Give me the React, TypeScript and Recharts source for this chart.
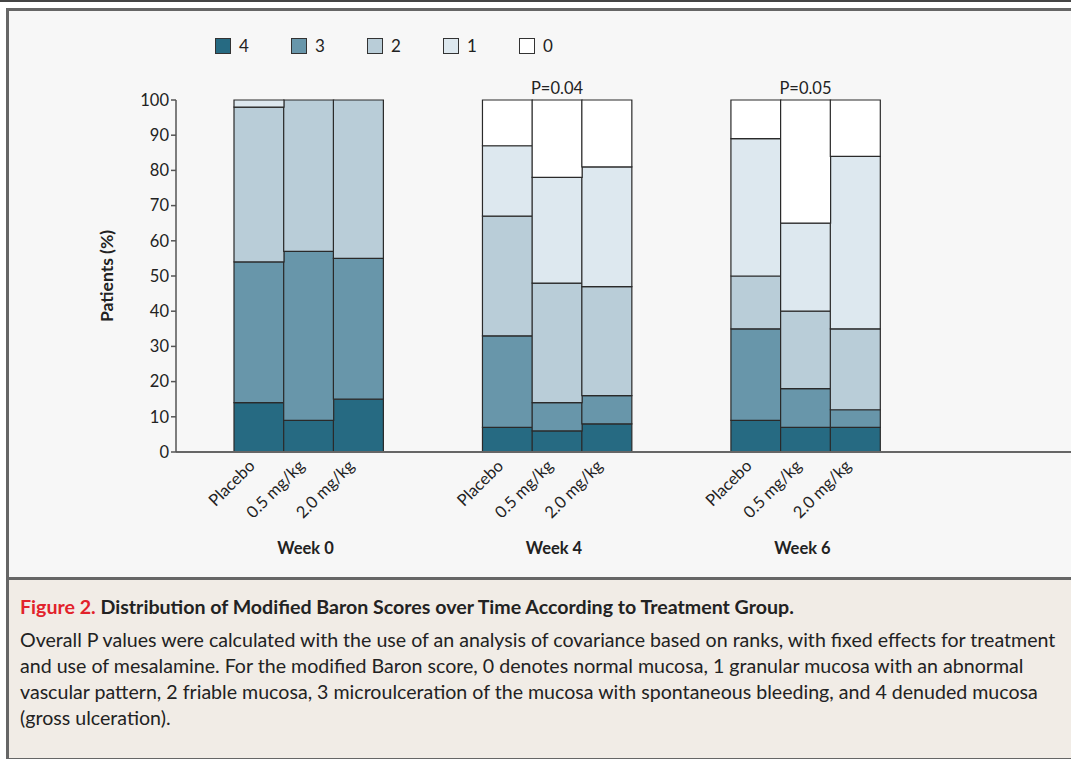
import { Bar, BarChart, XAxis, YAxis } from 'recharts'

const groups = ['Placebo', '0.5 mg/kg', '2.0 mg/kg']
const weeks = ['Week 0', 'Week 4', 'Week 6']
const pValues = ['', 'P=0.04', 'P=0.05']
const yTicks = [0, 10, 20, 30, 40, 50, 60, 70, 80, 90, 100]

// modified Baron score, % of patients, 3 groups per week
const score4 = [14, 9, 15, 7, 6, 8, 9, 7, 7]
const score3 = [40, 48, 40, 26, 8, 8, 26, 11, 5]
const score2 = [44, 43, 45, 34, 34, 31, 15, 22, 23]
const score1 = [2, 0, 0, 20, 30, 34, 39, 25, 49]
const score0 = [0, 0, 0, 13, 22, 19, 11, 35, 16]

const series = [
  { key: 's4', name: '4', values: score4, color: '#266a82' },
  { key: 's3', name: '3', values: score3, color: '#6896aa' },
  { key: 's2', name: '2', values: score2, color: '#b9cdd8' },
  { key: 's1', name: '1', values: score1, color: '#dde8ef' },
  { key: 's0', name: '0', values: score0, color: '#ffffff' },
]

// 3 bars per week, two empty slots between weeks
const data: Record<string, string | number | undefined>[] = []
weeks.forEach((week, w) => {
  groups.forEach((g, i) => {
    const idx = w * groups.length + i
    const row: Record<string, string | number | undefined> = {
      cat: g,
      week: i === 1 ? week : '',
      p: i === 1 ? pValues[w] : '',
    }
    series.forEach((s) => {
      row[s.key] = s.values[idx]
    })
    data.push(row)
  })
  if (w < weeks.length - 1) {
    data.push({ cat: '', week: '', p: '' })
    data.push({ cat: '', week: '', p: '' })
  }
})

const font = 'Lato, "Open Sans", sans-serif'
const pad = { left: 58, right: 191 }

const CatTick = ({ x, y, payload }: any) => {
  if (!payload.value) return null
  const ax = x - 3
  const ay = y + 7
  return (
    <text
      x={ax}
      y={ay}
      transform={`rotate(-45 ${ax} ${ay})`}
      textAnchor="end"
      fontSize={16.5}
      fill="#222"
      fontFamily={font}
    >
      {payload.value}
    </text>
  )
}

const WeekTick = ({ x, y, payload }: any) => {
  if (!payload.value) return null
  return (
    <text x={x - 3} y={y + 14} textAnchor="middle" fontSize={16.5} fontWeight={700} fill="#222" fontFamily={font}>
      {payload.value}
    </text>
  )
}

const PTick = ({ x, y, payload }: any) => {
  if (!payload.value) return null
  return (
    <text x={x} y={y + 2} textAnchor="middle" fontSize={16.5} fill="#222" fontFamily={font}>
      {payload.value}
    </text>
  )
}

const YLabel = (props: any) => {
  const vb = props.viewBox
  const cx = vb.x + 26
  const cy = vb.y + vb.height / 2
  return (
    <text
      x={cx}
      y={cy}
      transform={`rotate(-90 ${cx} ${cy})`}
      textAnchor="middle"
      dominantBaseline="central"
      fontSize={17.5}
      fontWeight={700}
      fill="#222"
      fontFamily={font}
    >
      Patients (%)
    </text>
  )
}

function Legend() {
  return (
    <div style={{ position: 'absolute', left: 215, top: 35, display: 'flex', fontFamily: font, fontSize: 17, color: '#222' }}>
      {series.map((s) => (
        <div key={s.key} style={{ display: 'flex', alignItems: 'center', width: 76 }}>
          <span
            style={{
              display: 'inline-block',
              width: 14,
              height: 14,
              background: s.color,
              border: '1.5px solid #333',
              marginRight: 8,
            }}
          />
          {s.name}
        </div>
      ))}
    </div>
  )
}

export default function App() {
  return (
    <div style={{ position: 'absolute', left: 0, top: 0, width: 1071, height: 759, overflow: 'hidden', background: '#fff' }}>
      <div style={{ position: 'absolute', left: 0, top: 0, width: 1071, height: 2, background: '#444' }} />
      <div
        style={{
          position: 'absolute',
          left: 6,
          top: 8,
          width: 1080,
          height: 747,
          border: '3px solid #666',
          background: '#f7f7f7',
        }}
      />
      <div
        style={{
          position: 'absolute',
          left: 9,
          top: 577,
          width: 1080,
          height: 178,
          borderTop: '3px solid #666',
          background: '#f1ece6',
        }}
      />
      <Legend />
      <div style={{ position: 'absolute', left: 0, top: 0 }}>
        <BarChart
          width={1071}
          height={575}
          data={data}
          margin={{ top: 70, right: 0, bottom: 3, left: 80 }}
          barCategoryGap={0}
          barGap={0}
        >
          <XAxis
            xAxisId="p"
            orientation="top"
            dataKey="p"
            height={30}
            padding={pad}
            axisLine={false}
            tickLine={false}
            interval={0}
            tick={<PTick />}
          />
          <XAxis
            xAxisId="cat"
            dataKey="cat"
            height={80}
            padding={pad}
            interval={0}
            axisLine={{ stroke: '#666', strokeWidth: 2 }}
            tickLine={false}
            tick={<CatTick />}
          />
          <XAxis
            xAxisId="week"
            dataKey="week"
            height={40}
            padding={pad}
            interval={0}
            axisLine={false}
            tickLine={false}
            tick={<WeekTick />}
          />
          <YAxis
            width={96}
            domain={[0, 100]}
            ticks={yTicks}
            interval={0}
            axisLine={{ stroke: '#555', strokeWidth: 1.5 }}
            tickLine={{ stroke: '#555', strokeWidth: 1.5 }}
            tickSize={5}
            tick={{ fontSize: 16.5, fill: '#222', fontFamily: font }}
            label={YLabel}
          />
          {series.map((s) => (
            <Bar
              key={s.key}
              xAxisId="cat"
              dataKey={s.key}
              name={s.name}
              stackId="a"
              fill={s.color}
              stroke="#2a2a2a"
              strokeWidth={1.2}
              isAnimationActive={false}
            />
          ))}
        </BarChart>
      </div>
      <div
        style={{
          position: 'absolute',
          left: 20,
          top: 594,
          width: 1048,
          fontFamily: font,
          fontSize: 19.6,
          lineHeight: '26px',
          color: '#222',
        }}
      >
        <div style={{ fontWeight: 700, marginBottom: 7 }}>
          <span style={{ color: '#e2222b' }}>Figure 2.</span> Distribution of Modified Baron Scores over Time According to
          Treatment Group.
        </div>
        <div>
          Overall P values were calculated with the use of an analysis of covariance based on ranks, with fixed effects for
          treatment and use of mesalamine. For the modified Baron score, 0 denotes normal mucosa, 1 granular mucosa with an
          abnormal vascular pattern, 2 friable mucosa, 3 microulceration of the mucosa with spontaneous bleeding, and 4
          denuded mucosa (gross ulceration).
        </div>
      </div>
    </div>
  )
}
